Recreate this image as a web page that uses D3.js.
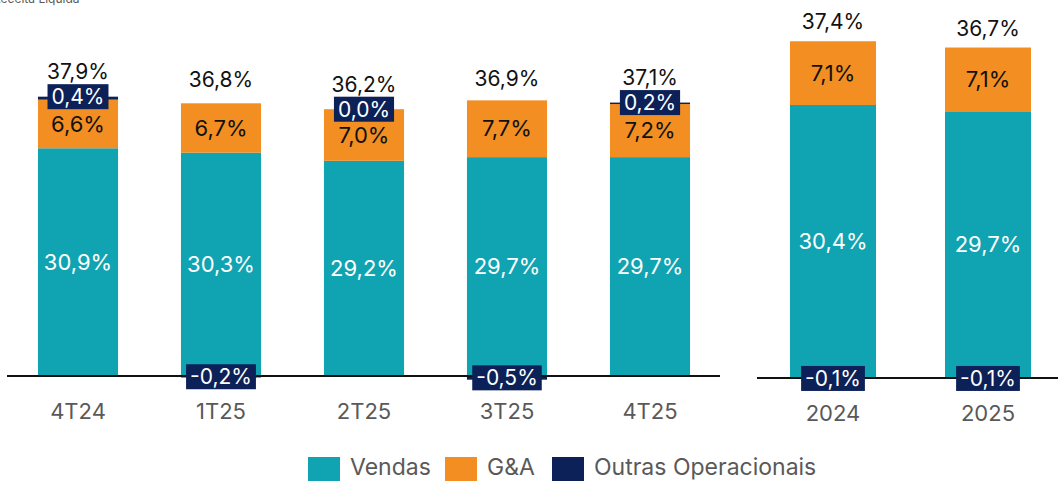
<!DOCTYPE html>
<html>
<head>
<meta charset="utf-8">
<script src="https://cdn.jsdelivr.net/npm/d3@7"></script>
<style>
    body { margin: 0; background: #ffffff; }
    svg text { font-family: Inter, "Noto Sans", sans-serif; }
</style>
</head>
<body>
<div id="chart"></div>
<script>
// Data
var quarters = ["4T24", "1T25", "2T25", "3T25", "4T25"];
var vendasQ = [30.9, 30.3, 29.2, 29.7, 29.7];
var gaQ = [6.6, 6.7, 7.0, 7.7, 7.2];
var outrasQ = [0.4, -0.2, 0.0, -0.5, 0.2];
var totalQ = [37.9, 36.8, 36.2, 36.9, 37.1];

var years = ["2024", "2025"];
var vendasY = [30.4, 29.7];
var gaY = [7.1, 7.1];
var outrasY = [-0.1, -0.1];
var totalY = [37.4, 36.7];

var seriesNames = ["Vendas", "G&A", "Outras Operacionais"];
var colors = ["#10A4B2", "#F28E22", "#0C2157"];

var width = 1058, height = 481;

var svg = d3.select("#chart")
    .append("svg")
    .attr("width", width)
    .attr("height", height);

function fmt(v) {
    return d3.format(".1f")(v).replace(".", ",").replace("−", "-") + "%";
}

/**
 * Draws one panel of stacked bars
 */
function drawPanel(cats, vendas, ga, outras, total, x, y, axisX0, axisX1, totalOffset) {
    var g = svg.append("g");

    cats.forEach(function(c, i) {
        var bx = x(c), bw = x.bandwidth(), cx = bx + bw / 2;
        var vTop = vendas[i], gTop = vendas[i] + ga[i];

        // vendas
        g.append("rect")
            .attr("x", bx).attr("width", bw)
            .attr("y", y(vTop)).attr("height", y(0) - y(vTop))
            .attr("fill", colors[0]);
        // g&a
        g.append("rect")
            .attr("x", bx).attr("width", bw)
            .attr("y", y(gTop)).attr("height", y(vTop) - y(gTop))
            .attr("fill", colors[1]);

        // outras (positive goes on top, negative below zero)
        var o0, o1;
        if (outras[i] >= 0) { o0 = gTop; o1 = gTop + outras[i]; }
        else { o0 = outras[i]; o1 = 0; }
        g.append("rect")
            .attr("x", bx).attr("width", bw)
            .attr("y", y(o1)).attr("height", Math.max(0, y(o0) - y(o1)))
            .attr("fill", colors[2]);

        // labels inside
        g.append("text")
            .attr("x", cx).attr("y", (y(0) + y(vTop)) / 2)
            .attr("text-anchor", "middle").attr("dy", "0.35em")
            .attr("font-size", 22).attr("fill", "#ffffff")
            .text(fmt(vendas[i]));
        g.append("text")
            .attr("x", cx).attr("y", (y(vTop) + y(gTop)) / 2)
            .attr("text-anchor", "middle").attr("dy", "0.35em")
            .attr("font-size", 22).attr("fill", "#111111")
            .text(fmt(ga[i]));
    });

    // baseline
    g.append("line")
        .attr("x1", axisX0).attr("x2", axisX1)
        .attr("y1", y(0)).attr("y2", y(0))
        .attr("stroke", "#111111").attr("stroke-width", 2);

    cats.forEach(function(c, i) {
        var cx = x(c) + x.bandwidth() / 2;
        var gTop = vendas[i] + ga[i];
        var oy = outras[i] >= 0 ? y(gTop + outras[i]) : (y(outras[i]) + y(0)) / 2;

        // outras label in a navy box
        var t = g.append("text")
            .attr("x", cx).attr("y", oy)
            .attr("text-anchor", "middle").attr("dy", "0.35em")
            .attr("font-size", 21).attr("fill", "#ffffff")
            .text(fmt(outras[i]));
        var bb = t.node().getBBox();
        g.insert("rect", function() { return t.node(); })
            .attr("x", bb.x - 4).attr("y", oy - 12.5)
            .attr("width", bb.width + 8).attr("height", 25)
            .attr("fill", colors[2]);

        // total label
        g.append("text")
            .attr("x", cx).attr("y", y(total[i]) - totalOffset)
            .attr("text-anchor", "middle").attr("dy", "0.35em")
            .attr("font-size", 21).attr("fill", "#111111")
            .text(fmt(total[i]));

        // category
        g.append("text")
            .attr("x", cx).attr("y", y(0) + 35)
            .attr("text-anchor", "middle").attr("dy", "0.35em")
            .attr("font-size", 22).attr("fill", "#595959")
            .text(c);
    });
}

// left panel (quarters)
var xQ = d3.scaleBand().domain(quarters).range([6.5, 721.5])
    .paddingInner(0.44).paddingOuter(0.22);
var yQ = d3.scaleLinear().domain([0, 40]).range([376, 376 - 7.37 * 40]);
drawPanel(quarters, vendasQ, gaQ, outrasQ, totalQ, xQ, yQ, 7, 720, 25);

// right panel (years)
var xY = d3.scaleBand().domain(years).range([755.5, 1065.5])
    .paddingInner(0.445).paddingOuter(0.2225);
var yY = d3.scaleLinear().domain([0, 40]).range([378, 378 - 8.98 * 40]);
drawPanel(years, vendasY, gaY, outrasY, totalY, xY, yY, 757, 1058, 20);

// cut off title in the corner (as in the original)
svg.append("text")
    .attr("x", -7).attr("y", 3)
    .attr("font-size", 12).attr("fill", "#595959")
    .text("Receita Líquida");

// legend
var legendX = [308, 445, 552];
var legend = svg.append("g");
seriesNames.forEach(function(s, i) {
    legend.append("rect")
        .attr("x", legendX[i]).attr("y", 457)
        .attr("width", 32).attr("height", 26)
        .attr("fill", colors[i]);
    legend.append("text")
        .attr("x", legendX[i] + 42).attr("y", 467)
        .attr("dy", "0.35em")
        .attr("font-size", 23).attr("fill", "#595959")
        .text(s);
});
</script>
</body>
</html>
